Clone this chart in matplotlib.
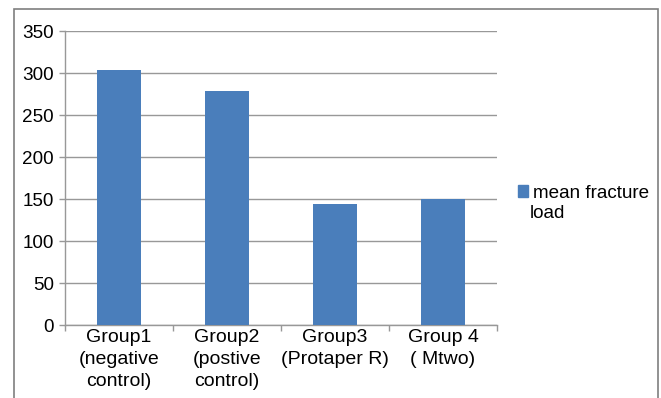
import matplotlib.pyplot as plt
from matplotlib.patches import Patch, Rectangle

plt.rcParams['font.family'] = ['Liberation Sans', 'DejaVu Sans']

# data
groups = ['Group1\n(negative\ncontrol)', 'Group2\n(postive\ncontrol)',
          'Group3\n(Protaper R)', 'Group 4\n( Mtwo)']
mean_load = [303.5, 278.5, 144, 150]
y_ticks = [0, 50, 100, 150, 200, 250, 300, 350]

BAR = '#4a7ebb'
GRID = '#989898'

fig = plt.figure(figsize=(6.61, 3.98), dpi=100)
ax = fig.add_axes([65 / 661, 1 - 325 / 398, 432 / 661, 294 / 398])

x = range(len(groups))
ax.bar(x, mean_load, width=0.41, color=BAR, zorder=3)

ax.set_xlim(-0.5, len(groups) - 0.5)
ax.set_ylim(0, 350)
ax.set_yticks(y_ticks)
ax.yaxis.grid(True, color=GRID, linewidth=1.0, zorder=0)
ax.set_xticks(list(x))
ax.set_xticklabels(groups, fontsize=14, linespacing=1.36)
ax.set_xticks([i - 0.5 for i in range(len(groups) + 1)], minor=True)
ax.tick_params(axis='x', which='major', length=0, pad=3)
ax.tick_params(axis='x', which='minor', length=4, color=GRID, width=1)
ax.tick_params(axis='y', length=4, color=GRID, width=1, labelsize=13.6, pad=4)

for s in ['top', 'right']:
    ax.spines[s].set_visible(False)
for s in ['left', 'bottom']:
    ax.spines[s].set_color(GRID)
    ax.spines[s].set_linewidth(1.0)

# outer chart border (bottom runs off the image)
fig.patches.append(Rectangle((14 / 661, -0.05), 644 / 661, 1.05 - 9 / 398,
                             transform=fig.transFigure, fill=False,
                             edgecolor='#7f7f7f', linewidth=1.2))

fig.legend(handles=[Patch(color=BAR)], labels=['mean fracture'],
           loc='upper left', bbox_to_anchor=(510 / 661, 1 - 177 / 398),
           frameon=False, fontsize=13.6, handlelength=0.55, handleheight=0.55,
           handletextpad=0.25, borderaxespad=0)
fig.text(530 / 661, 1 - 213 / 398, 'load', fontsize=13.6, va='center', ha='left')

fig.savefig('out.png', dpi=100)
